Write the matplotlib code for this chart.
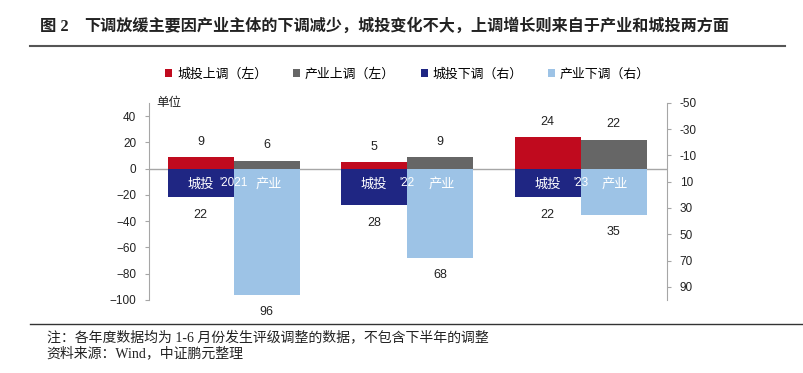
import numpy as np
import matplotlib
matplotlib.use("Agg")
import matplotlib.pyplot as plt

plt.rcParams['font.family'] = ['Liberation Sans', 'Noto Sans CJK SC']

# data
years = ["'2021", "'22", "'23"]
chengtou_up = [9, 5, 24]      # 城投上调（左）
chanye_up = [6, 9, 22]        # 产业上调（左）
chengtou_down = [22, 28, 22]  # 城投下调（右）
chanye_down = [96, 68, 35]    # 产业下调（右）

c_red = '#C00A1E'
c_gray = '#666666'
c_navy = '#1F2683'
c_lblue = '#9DC3E6'
c_axis = '#A6A6A6'
serif_cjk = ['Liberation Serif', 'Noto Sans CJK SC']

fig = plt.figure(figsize=(8.04, 3.73), dpi=100)
ax = fig.add_axes([0.185, 0.196, 0.645, 0.528])
ax2 = ax.twinx()

x = np.arange(len(years))
w = 0.38

b1 = ax.bar(x - w / 2, chengtou_up, w, color=c_red, label='城投上调（左）')
b2 = ax.bar(x + w / 2, chanye_up, w, color=c_gray, label='产业上调（左）')
b3 = ax2.bar(x - w / 2, chengtou_down, w, color=c_navy, label='城投下调（右）')
b4 = ax2.bar(x + w / 2, chanye_down, w, color=c_lblue, label='产业下调（右）')

ax.set_xlim(-0.49, 2.5)
ax.set_ylim(-100, 50)
ax.set_yticks(np.arange(-100, 41, 20))
ax2.set_ylim(100, -50)
ax2.set_yticks(np.arange(-50, 91, 20))
ax.set_yticklabels([f'{v}'.replace('-', '\u2212') for v in range(-100, 41, 20)])
ax2.set_yticklabels([f'{v}' for v in range(-50, 91, 20)])

ax.axhline(0, color=c_axis, lw=1, zorder=0.5)
ax.set_xticks([])

for a in (ax, ax2):
    for s in ('top', 'bottom'):
        a.spines[s].set_visible(False)
    a.tick_params(axis='y', length=3, color=c_axis, labelsize=8.5, labelcolor='#222222', pad=6)
ax.spines['left'].set_color(c_axis)
ax.spines['right'].set_visible(False)
ax2.spines['left'].set_visible(False)
ax2.spines['right'].set_color(c_axis)
ax.tick_params(axis='x', length=0)

# value labels
for bars, vals in ((b1, chengtou_up), (b2, chanye_up)):
    for r, v in zip(bars, vals):
        ax.annotate(f'{v}', (r.get_x() + r.get_width() / 2, v), xytext=(0, 11),
                    textcoords='offset points', ha='center', va='center', fontsize=9, color='#222222')
for bars, vals in ((b3, chengtou_down), (b4, chanye_down)):
    for r, v in zip(bars, vals):
        ax2.annotate(f'{v}', (r.get_x() + r.get_width() / 2, v), xytext=(0, -12.5),
                     textcoords='offset points', ha='center', va='center', fontsize=9, color='#222222')

# category labels inside bars
for i, yr in enumerate(years):
    ax2.text(i - w / 2, 12, '城投', ha='center', va='center', color='white', fontsize=9.5)
    ax2.text(i + w / 2 + 0.01, 12, '产业', ha='center', va='center', color='white', fontsize=9.5)
    ax2.text(i, 11, yr, ha='center', va='center', color='white', fontsize=8.5)

ax.text(0.015, 1.0, '单位', transform=ax.transAxes, ha='left', va='center', fontsize=9, color='#222222')

fig.legend(handles=[b1, b2, b3, b4], loc='center', bbox_to_anchor=(0.507, 0.80), ncol=4,
           frameon=False, fontsize=9.3, handlelength=0.55, handleheight=0.55, handletextpad=0.35,
           columnspacing=2.0)

# title and notes
fig.text(0.050, 0.928, '图 2', fontsize=11.8, fontweight='bold', ha='left', va='center',
         color='#222222', family=serif_cjk)
fig.text(0.105, 0.928, '下调放缓主要因产业主体的下调减少，城投变化不大，上调增长则来自于产业和城投两方面',
         fontsize=11.6, fontweight='bold', ha='left', va='center', color='#222222',
         family=serif_cjk)
fig.add_artist(plt.Line2D([0.037, 0.976], [0.877, 0.877], color='#555555', lw=1.5))
fig.add_artist(plt.Line2D([0.037, 1.0], [0.131, 0.131], color='#333333', lw=1.0))
fig.text(0.058, 0.097, '注：各年度数据均为 1-6 月份发生评级调整的数据，不包含下半年的调整',
         fontsize=10, ha='left', va='center', color='#222222', family=serif_cjk)
fig.text(0.058, 0.054, '资料来源：Wind，中证鹏元整理',
         fontsize=10, ha='left', va='center', color='#222222', family=serif_cjk)

fig.savefig('out.png', dpi=100)
